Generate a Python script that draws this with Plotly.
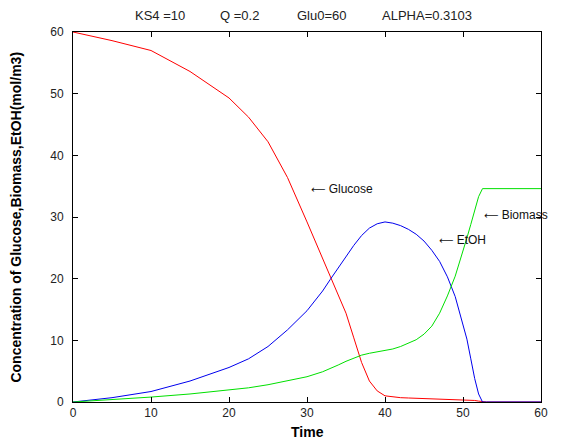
import plotly.graph_objects as go

time = [0, 5, 10, 15, 20, 22.5, 25, 27.5, 30, 32, 33, 34, 35, 36, 37, 38, 39, 40,
        41, 42, 43, 44, 45, 46, 47, 48, 49, 50, 50.5, 51, 51.5, 52, 52.5, 53, 55, 60]

glucose = [60, 58.6, 57.0, 53.6, 49.3, 46.2, 42.2, 36.4, 29.2, 23.3, 20.3, 17.4, 14.4,
           10.4, 6.4, 3.4, 1.8, 1.0, 0.8, 0.7, 0.65, 0.6, 0.55, 0.5, 0.48, 0.45, 0.42,
           0.4, 0.35, 0.3, 0.25, 0.15, 0.02, 0, 0, 0]

etoh = [0, 0.7, 1.7, 3.4, 5.6, 7.0, 9.0, 11.7, 14.8, 18.0, 19.9, 21.8, 23.6, 25.4, 27.0,
        28.2, 28.9, 29.2, 29.0, 28.6, 28.0, 27.2, 26.1, 24.6, 22.8, 20.3, 17.1, 12.7,
        10.2, 7.0, 3.8, 1.3, 0, 0, 0, 0]

biomass = [0, 0.35, 0.8, 1.3, 1.9, 2.3, 2.8, 3.4, 4.1, 4.9, 5.4, 6.0, 6.6, 7.1, 7.6, 7.9,
           8.1, 8.3, 8.6, 9.0, 9.5, 10.1, 11.0, 12.3, 14.4, 17.2, 20.4, 24.3, 26.6,
           28.8, 31.2, 33.3, 34.6, 34.6, 34.6, 34.6]

x_ticks = [0, 10, 20, 30, 40, 50, 60]
y_ticks = [0, 10, 20, 30, 40, 50, 60]

title_parts = ["KS4 =10", "Q =0.2", "Glu0=60", "ALPHA=0.3103"]
title_px = [133, 218, 295, 380]

labels = ["Glucose", "EtOH", "Biomass"]
label_x = [30.3, 46.7, 52.4]
label_y = [34.5, 26.2, 30.4]

# page offset of the plot (body margin) compensated in margins
OFF = 8
W, H = 566, 444
ml, mr, mt, mb = 64.5, 33, 24, 50.3
pw, ph = W - ml - mr, H - mt - mb

def px_to_paper_x(P):
    return (P - OFF - ml) / pw

def py_to_paper_y(P):
    return (H - mb - (P - OFF)) / ph

FONT = "Liberation Sans, Arial, Helvetica, sans-serif"

fig = go.Figure()
fig.add_trace(go.Scatter(x=time, y=glucose, mode="lines", line=dict(color="#ff0000", width=1), name="Glucose"))
fig.add_trace(go.Scatter(x=time, y=etoh, mode="lines", line=dict(color="#0000ee", width=1), name="EtOH"))
fig.add_trace(go.Scatter(x=time, y=biomass, mode="lines", line=dict(color="#00e000", width=1), name="Biomass"))

annotations = []
for txt, px in zip(title_parts, title_px):
    annotations.append(dict(text=txt, xref="paper", yref="paper",
                            x=px_to_paper_x(px), y=py_to_paper_y(16),
                            xanchor="left", yanchor="middle", showarrow=False,
                            font=dict(family=FONT, size=13, color="#222")))
for txt, xv, yv in zip(labels, label_x, label_y):
    annotations.append(dict(text="<span style='font-family:DejaVu Sans;font-size:10px'>\u27f5</span> " + txt,
                            x=xv, y=yv, xref="x", yref="y",
                            xanchor="left", yanchor="middle", showarrow=False,
                            font=dict(family=FONT, size=12, color="#111")))
annotations.append(dict(text="<b>Concentration of Glucose,Biomass,EtOH(mol/m3)</b>",
                        xref="paper", yref="paper", x=px_to_paper_x(15), y=0.5,
                        xanchor="center", yanchor="middle", textangle=-90, showarrow=False,
                        font=dict(family=FONT, size=14, color="black")))
annotations.append(dict(text="<b>Time</b>", xref="paper", yref="paper",
                        x=px_to_paper_x(307), y=py_to_paper_y(432),
                        xanchor="center", yanchor="middle", showarrow=False,
                        font=dict(family=FONT, size=14, color="black")))

fig.update_layout(
    width=W, height=H,
    margin=dict(l=ml, r=mr, t=mt, b=mb, autoexpand=False),
    paper_bgcolor="white", plot_bgcolor="white",
    showlegend=False,
    annotations=annotations,
    font=dict(family=FONT, size=12, color="#222"),
)
fig.update_xaxes(range=[0, 60], tickvals=x_ticks, ticktext=[str(v) for v in x_ticks],
                 showgrid=False, zeroline=False, showline=True, linecolor="black", linewidth=1,
                 mirror="ticks", ticks="inside", ticklen=5, tickcolor="black",
                 tickfont=dict(size=12, color="#222"), automargin=False)
fig.update_yaxes(range=[0, 60], tickvals=y_ticks, ticktext=[str(v) for v in y_ticks],
                 showgrid=False, zeroline=False, showline=True, linecolor="black", linewidth=1,
                 mirror="ticks", ticks="inside", ticklen=5, tickcolor="black",
                 tickfont=dict(size=12, color="#222"), ticklabelstandoff=6, automargin=False)

fig.write_html("out.html")
